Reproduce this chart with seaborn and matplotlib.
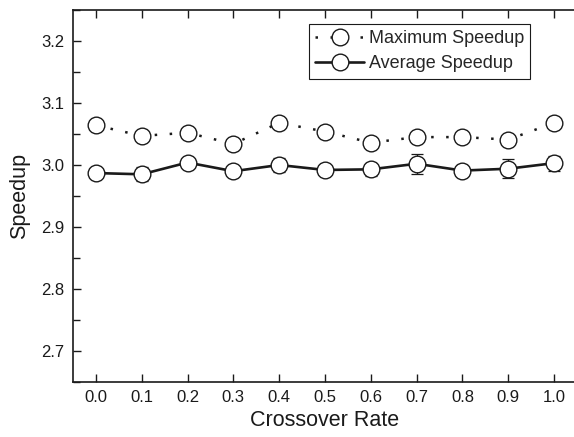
import matplotlib
matplotlib.use("Agg")
import matplotlib.pyplot as plt
import seaborn as sns
import numpy as np
import pandas as pd

rates = [0.0, 0.1, 0.2, 0.3, 0.4, 0.5, 0.6, 0.7, 0.8, 0.9, 1.0]
max_speedup = [3.064, 3.047, 3.052, 3.034, 3.068, 3.054, 3.036, 3.045, 3.045, 3.041, 3.068]
avg_speedup = [2.987, 2.985, 3.004, 2.990, 3.000, 2.992, 2.993, 3.002, 2.991, 2.994, 3.003]
avg_err = [0.006, 0.011, 0.006, 0.006, 0.011, 0.006, 0.011, 0.016, 0.009, 0.015, 0.012]
xticks = [0.0, 0.1, 0.2, 0.3, 0.4, 0.5, 0.6, 0.7, 0.8, 0.9, 1.0]
yticks = [2.7, 2.8, 2.9, 3.0, 3.1, 3.2]

sns.set_style("ticks")
plt.rcParams["font.family"] = ["Liberation Sans", "DejaVu Sans"]

df = pd.DataFrame({"rate": rates, "max": max_speedup, "avg": avg_speedup, "err": avg_err})

fig = plt.figure(figsize=(5.74, 4.37), dpi=100)
ax = fig.add_axes([73 / 574, 55 / 437, 504 / 574, 372 / 437])

ink = "#1a1a1a"
ax.errorbar(df["rate"], df["avg"], yerr=df["err"], fmt="none", ecolor=ink,
            elinewidth=0.9, capsize=4, capthick=0.9, zorder=1.5)
sns.lineplot(data=df, x="rate", y="max", ax=ax, color=ink, linestyle=(0, (1, 5)),
             linewidth=1.8, marker="o", markersize=12, markerfacecolor="white",
             markeredgecolor=ink, markeredgewidth=1.0, label="Maximum Speedup", zorder=3)
sns.lineplot(data=df, x="rate", y="avg", ax=ax, color=ink, linestyle="-",
             linewidth=1.9, marker="o", markersize=12, markerfacecolor="white",
             markeredgecolor=ink, markeredgewidth=1.0, label="Average Speedup", zorder=3)

ax.set_xlim(-0.05, 1.05)
ax.set_ylim(2.65, 3.25)
ax.set_xticks(xticks)
ax.set_xticklabels([f"{v:.1f}" for v in xticks])
ax.set_yticks(yticks)
ax.set_yticklabels([f"{v:.1f}" for v in yticks])
ax.set_yticks(np.arange(2.65, 3.25, 0.1), minor=True)

for s in ax.spines.values():
    s.set_visible(True)
    s.set_linewidth(1.2)
    s.set_color(ink)

ax.tick_params(axis="both", which="major", direction="in", length=6, width=1.0,
               color=ink, labelsize=12, labelcolor=ink, pad=6)
ax.tick_params(axis="y", which="minor", direction="in", length=5, width=1.0, color=ink)
ax.tick_params(axis="x", top=True, which="major")
ax.tick_params(axis="y", right=False)

ax.set_xlabel("Crossover Rate", fontsize=15.5, color=ink, labelpad=3)
ax.set_ylabel("Speedup", fontsize=15.5, color=ink, labelpad=8)

leg = ax.legend(loc="upper left", bbox_to_anchor=(309 / 574, 1 - 24 / 437),
                bbox_transform=fig.transFigure, frameon=True, fancybox=False,
                fontsize=13, handlelength=2.7, handletextpad=0.25,
                borderpad=0.35, labelspacing=0.45, borderaxespad=0)
leg.get_frame().set_edgecolor(ink)
leg.get_frame().set_linewidth(0.8)
leg.get_frame().set_alpha(1)

fig.savefig("out.png", dpi=100)
